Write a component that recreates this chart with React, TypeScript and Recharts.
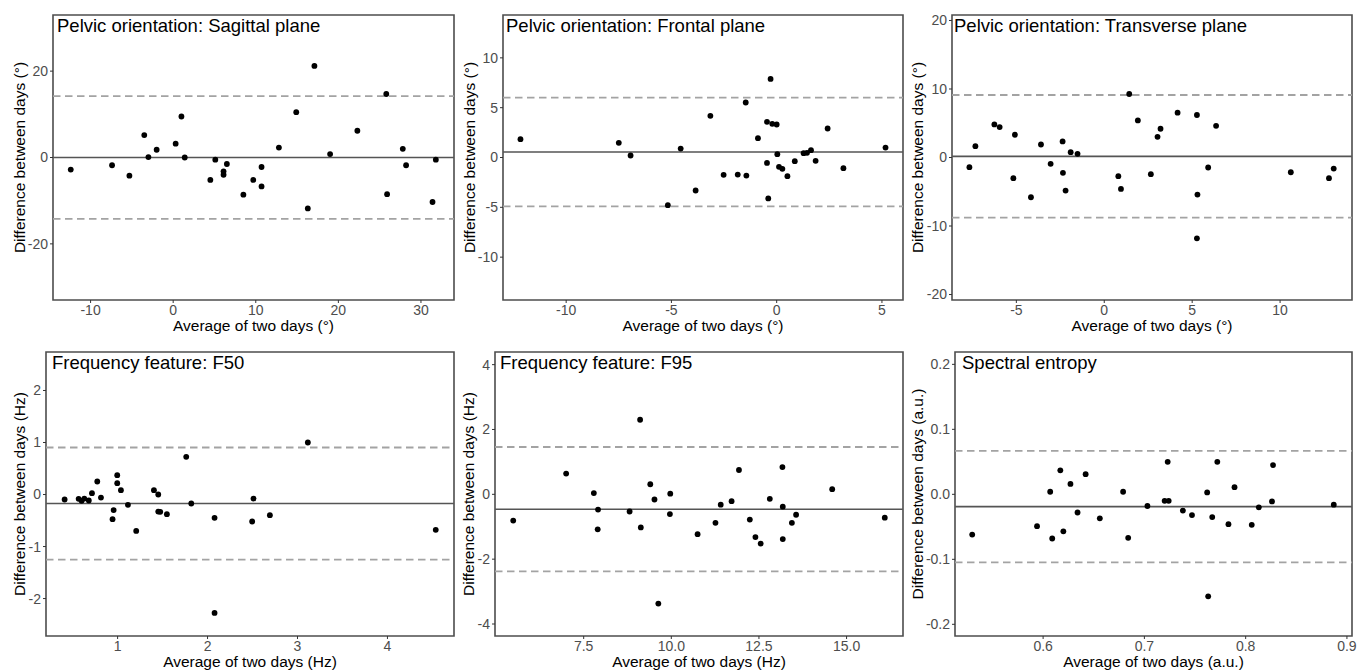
import React from 'react';
import { ScatterChart, Scatter, XAxis, YAxis, ReferenceLine, ReferenceArea } from 'recharts';

// ---- Data ----
const sagittalAvg = [-12.4, -7.4, -5.3, -3.5, -3.0, -2.0, 0.3, 1.0, 1.4, 4.5, 5.1, 6.1, 6.1, 6.5, 8.5, 9.7, 10.7, 10.7, 12.8, 14.9, 16.3, 17.1, 19.0, 22.3, 25.8, 25.9, 27.8, 28.2, 31.4, 31.8];
const sagittalDiff = [-2.8, -1.8, -4.2, 5.2, 0.1, 1.8, 3.2, 9.5, 0.0, -5.2, -0.5, -3.2, -4.0, -1.5, -8.6, -5.2, -2.2, -6.7, 2.3, 10.5, -11.8, 21.2, 0.8, 6.2, 14.7, -8.5, 2.0, -1.8, -10.3, -0.5];
const sagittalStats = { mean: 0.0, upper: 14.2, lower: -14.2 };

const frontalAvg = [-12.17, -7.5, -6.94, -5.17, -4.56, -3.85, -3.15, -2.52, -1.85, -1.47, -1.44, -0.89, -0.46, -0.46, -0.4, -0.29, -0.21, 0.0, 0.03, 0.11, 0.27, 0.51, 0.86, 1.28, 1.44, 1.63, 1.85, 2.42, 3.17, 5.17];
const frontalDiff = [1.84, 1.47, 0.2, -4.78, 0.9, -3.31, 4.18, -1.74, -1.71, 5.52, -1.81, 1.94, 3.58, -0.54, -4.11, 7.89, 3.38, 3.31, 0.33, -0.94, -1.14, -1.87, -0.37, 0.43, 0.47, 0.74, -0.33, 2.91, -1.07, 1.0];
const frontalStats = { mean: 0.55, upper: 6.0, lower: -4.9 };

const transverseAvg = [-7.67, -7.33, -6.25, -5.95, -5.17, -5.08, -4.17, -3.6, -3.05, -2.37, -2.35, -2.2, -1.91, -1.52, 0.8, 0.95, 1.42, 1.91, 2.65, 3.03, 3.2, 4.17, 5.27, 5.3, 5.27, 5.91, 6.36, 10.61, 12.78, 13.05];
const transverseDiff = [-1.41, 1.66, 4.83, 4.44, -3.02, 3.32, -5.8, 1.9, -0.93, 2.34, -2.24, -4.83, 0.78, 0.54, -2.73, -4.59, 9.27, 5.41, -2.44, 3.02, 4.2, 6.54, 6.2, -5.41, -11.8, -1.46, 4.63, -2.15, -3.02, -1.61];
const transverseStats = { mean: 0.17, upper: 9.12, lower: -8.78 };

const f50Avg = [0.411, 0.567, 0.6, 0.63, 0.68, 0.715, 0.774, 0.815, 0.944, 0.956, 0.996, 0.996, 1.037, 1.115, 1.207, 1.404, 1.452, 1.452, 1.474, 1.548, 1.763, 1.819, 2.078, 2.078, 2.496, 2.511, 2.693, 3.115, 4.537];
const f50Diff = [-0.096, -0.083, -0.122, -0.077, -0.115, 0.026, 0.25, -0.058, -0.474, -0.3, 0.372, 0.218, 0.083, -0.199, -0.699, 0.083, 0.0, -0.327, -0.333, -0.378, 0.724, -0.173, -0.449, -2.276, -0.519, -0.077, -0.397, 1.0, -0.679];
const f50Stats = { mean: -0.173, upper: 0.904, lower: -1.25 };

const f95Avg = [5.49, 7.0, 7.79, 7.91, 7.9, 8.81, 9.11, 9.13, 9.4, 9.52, 9.63, 9.97, 9.96, 10.75, 11.26, 11.41, 11.72, 11.93, 12.24, 12.4, 12.55, 12.81, 13.17, 13.18, 13.18, 13.44, 13.56, 14.59, 16.09];
const f95Diff = [-0.81, 0.64, 0.04, -0.47, -1.08, -0.53, 2.3, -1.02, 0.31, -0.16, -3.37, 0.02, -0.61, -1.23, -0.88, -0.32, -0.21, 0.75, -0.78, -1.32, -1.52, -0.14, 0.84, -0.38, -1.38, -0.88, -0.63, 0.16, -0.72];
const f95Stats = { mean: -0.46, upper: 1.46, lower: -2.375 };

const entropyAvg = [0.53, 0.594, 0.607, 0.609, 0.617, 0.62, 0.627, 0.634, 0.642, 0.656, 0.679, 0.684, 0.703, 0.72, 0.724, 0.723, 0.738, 0.747, 0.762, 0.763, 0.767, 0.772, 0.783, 0.789, 0.806, 0.813, 0.826, 0.827, 0.887];
const entropyDiff = [-0.062, -0.049, 0.004, -0.068, 0.037, -0.057, 0.016, -0.028, 0.031, -0.037, 0.004, -0.067, -0.018, -0.01, -0.01, 0.05, -0.025, -0.032, 0.003, -0.157, -0.035, 0.05, -0.046, 0.011, -0.047, -0.02, -0.011, 0.045, -0.016];
const entropyStats = { mean: -0.019, upper: 0.0668, lower: -0.1047 };

const titles = [
  'Pelvic orientation: Sagittal plane',
  'Pelvic orientation: Frontal plane',
  'Pelvic orientation: Transverse plane',
  'Frequency feature: F50',
  'Frequency feature: F95',
  'Spectral entropy',
];
const xTitles = [
  'Average of two days (°)',
  'Average of two days (°)',
  'Average of two days (°)',
  'Average of two days (Hz)',
  'Average of two days (Hz)',
  'Average of two days (a.u.)',
];
const yTitles = [
  'Difference between days (°)',
  'Difference between days (°)',
  'Difference between days (°)',
  'Difference between days (Hz)',
  'Difference between days (Hz)',
  'Difference between days (a.u.)',
];

const xTickSets = [
  [-10, 0, 10, 20, 30],
  [-10, -5, 0, 5],
  [-5, 0, 5, 10],
  [1, 2, 3, 4],
  [7.5, 10, 12.5, 15],
  [0.6, 0.7, 0.8, 0.9],
];
const yTickSets = [
  [-20, 0, 20],
  [-10, -5, 0, 5, 10],
  [-20, -10, 0, 10, 20],
  [-2, -1, 0, 1, 2],
  [-4, -2, 0, 2, 4],
  [-0.2, -0.1, 0, 0.1, 0.2],
];

// ---- Layout / axis settings ----
const FONT = "'Liberation Sans', Arial, Helvetica, sans-serif";
const fmtPlain = (v: number) => String(v);
const fmt1 = (v: number) => v.toFixed(1);

type Box = { l: number; t: number; r: number; b: number };
type PanelCfg = {
  xs: number[];
  ys: number[];
  stats: { mean: number; upper: number; lower: number };
  xDomain: [number, number];
  yDomain: [number, number];
  xFmt: (v: number) => string;
  yFmt: (v: number) => string;
  box: Box;
  titleX: number;
  yTitleX: number;
};

const panels: PanelCfg[] = [
  { xs: sagittalAvg, ys: sagittalDiff, stats: sagittalStats, xDomain: [-14.55, 34.0], yDomain: [-33, 33], xFmt: fmtPlain, yFmt: fmtPlain, box: { l: 53, t: 15, r: 454, b: 300 }, titleX: 57, yTitleX: 25 },
  { xs: frontalAvg, ys: frontalDiff, stats: frontalStats, xDomain: [-13.0, 6.0], yDomain: [-14.3, 14.3], xFmt: fmtPlain, yFmt: fmtPlain, box: { l: 503, t: 15, r: 903, b: 300 }, titleX: 506, yTitleX: 475 },
  { xs: transverseAvg, ys: transverseDiff, stats: transverseStats, xDomain: [-8.66, 14.09], yDomain: [-20.8, 20.8], xFmt: fmtPlain, yFmt: fmtPlain, box: { l: 952, t: 15, r: 1352, b: 300 }, titleX: 954, yTitleX: 923 },
  { xs: f50Avg, ys: f50Diff, stats: f50Stats, xDomain: [0.204, 4.74], yDomain: [-2.72, 2.74], xFmt: fmtPlain, yFmt: fmtPlain, box: { l: 46, t: 352, r: 454, b: 636 }, titleX: 52, yTitleX: 25 },
  { xs: f95Avg, ys: f95Diff, stats: f95Stats, xDomain: [4.97, 16.61], yDomain: [-4.37, 4.39], xFmt: fmt1, yFmt: fmtPlain, box: { l: 495, t: 352, r: 903, b: 636 }, titleX: 500, yTitleX: 474 },
  { xs: entropyAvg, ys: entropyDiff, stats: entropyStats, xDomain: [0.513, 0.905], yDomain: [-0.218, 0.219], xFmt: fmt1, yFmt: fmt1, box: { l: 955, t: 352, r: 1352, b: 636 }, titleX: 962, yTitleX: 923 },
];

const Dot = (props: any) => {
  const { cx, cy } = props;
  if (cx == null || cy == null) return null;
  return <circle cx={cx} cy={cy} r={2.9} fill="#000" />;
};

const Y_W = 53;
const M_T = 15;
const M_R = 6;
const X_H = 35;

function Panel({ p, i }: { p: PanelCfg; i: number }) {
  const width = p.box.r - p.box.l + Y_W + M_R;
  const height = p.box.b - p.box.t + M_T + X_H;
  const data = p.xs.map((x, k) => ({ x, y: p.ys[k] }));
  const tickStyle = { fill: '#4d4d4d', fontSize: 14, fontFamily: FONT };
  return (
    <div style={{ position: 'absolute', left: p.box.l - Y_W, top: p.box.t - M_T, width, height }}>
      <ScatterChart width={width} height={height} margin={{ top: M_T, right: M_R, bottom: 0, left: 0 }}>
        <XAxis
          type="number"
          dataKey="x"
          domain={p.xDomain}
          ticks={xTickSets[i]}
          allowDataOverflow
          interval={0}
          height={X_H}
          tickSize={3}
          tickMargin={2}
          axisLine={false}
          tickLine={{ stroke: '#333', strokeWidth: 1 }}
          tick={tickStyle}
          tickFormatter={p.xFmt}
        />
        <YAxis
          type="number"
          dataKey="y"
          domain={p.yDomain}
          ticks={yTickSets[i]}
          allowDataOverflow
          interval={0}
          width={Y_W}
          tickSize={3}
          tickMargin={2}
          axisLine={false}
          tickLine={{ stroke: '#333', strokeWidth: 1 }}
          tick={tickStyle}
          tickFormatter={p.yFmt}
        />
        <ReferenceLine y={p.stats.upper} stroke="#a3a3a3" strokeWidth={1.8} strokeDasharray="7.5 4.5" />
        <ReferenceLine y={p.stats.lower} stroke="#a3a3a3" strokeWidth={1.8} strokeDasharray="7.5 4.5" />
        <ReferenceLine y={p.stats.mean} stroke="#555" strokeWidth={1.6} />
        <Scatter data={data} fill="#000" shape={Dot} isAnimationActive={false} />
        <ReferenceArea
          x1={p.xDomain[0]}
          x2={p.xDomain[1]}
          y1={p.yDomain[0]}
          y2={p.yDomain[1]}
          fill="none"
          fillOpacity={0}
          stroke="#4d4d4d"
          strokeWidth={1.6}
          ifOverflow="visible"
        />
      </ScatterChart>
    </div>
  );
}

export default function App() {
  return (
    <div style={{ position: 'absolute', left: 0, top: 0, width: 1369, height: 670, background: '#fff', overflow: 'hidden' }}>
      {panels.map((p, i) => (
        <Panel key={i} p={p} i={i} />
      ))}
      <svg width={1369} height={670} style={{ position: 'absolute', left: 0, top: 0, pointerEvents: 'none' }}>
        {panels.map((p, i) => {
          const cy = (p.box.t + p.box.b) / 2;
          const cx = (p.box.l + p.box.r) / 2;
          return (
            <g key={i} fontFamily={FONT}>
              <text x={p.titleX} y={p.box.t + 17} fontSize={18.5} fill="#000">{titles[i]}</text>
              <text x={cx} y={p.box.b + 30.5} fontSize={15.5} fill="#000" textAnchor="middle">{xTitles[i]}</text>
              <text x={p.yTitleX} y={cy} fontSize={15.5} fill="#000" textAnchor="middle" transform={`rotate(-90 ${p.yTitleX} ${cy})`}>{yTitles[i]}</text>
            </g>
          );
        })}
      </svg>
    </div>
  );
}
